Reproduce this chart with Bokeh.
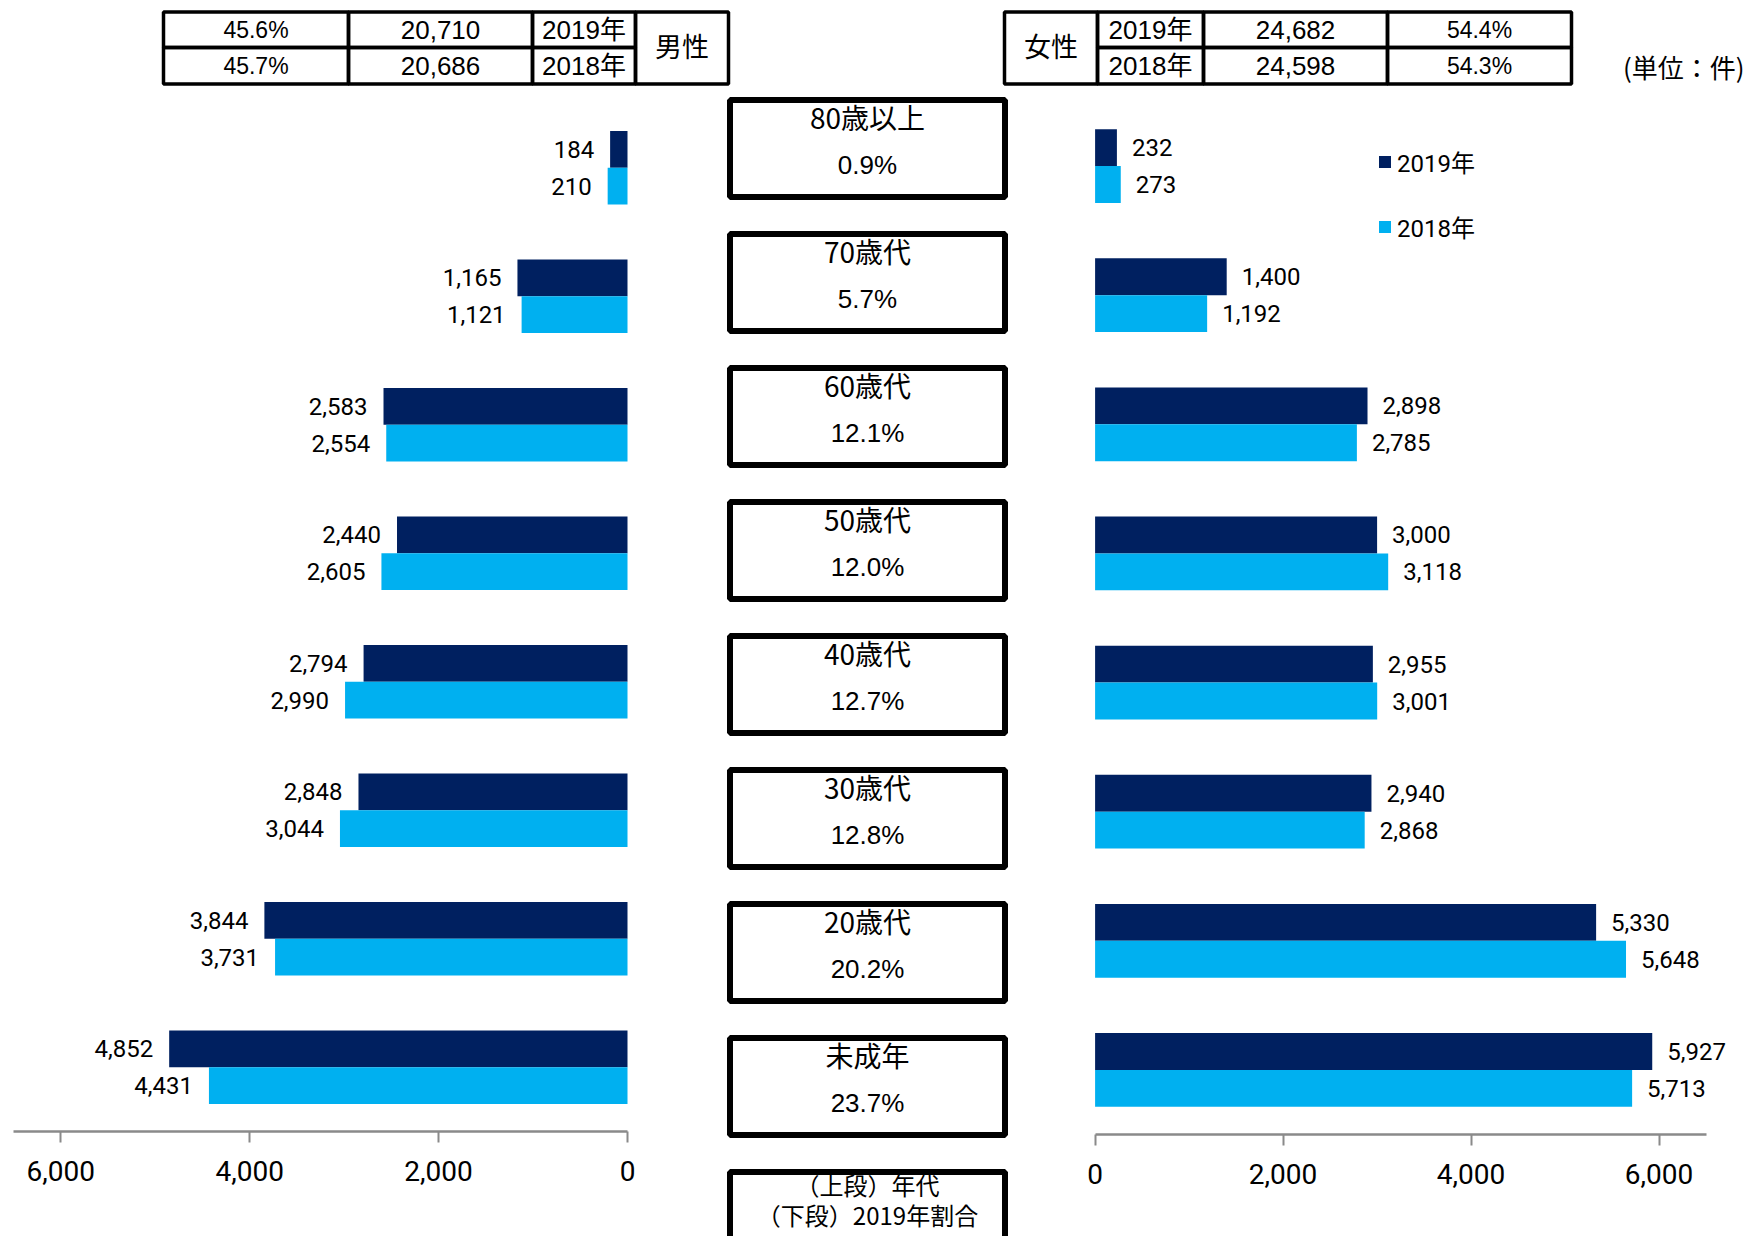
from bokeh.plotting import figure
from bokeh.layouts import column, row
from bokeh.models import (Range1d, FactorRange, ColumnDataSource, FixedTicker,
                          NumeralTickFormatter, Legend, LegendItem)
from bokeh.transform import dodge
from bokeh.core.properties import value
from bokeh.embed import file_html
from bokeh.resources import INLINE

# ---------------- data ----------------
categories = ["80歳以上", "70歳代", "60歳代", "50歳代", "40歳代", "30歳代", "20歳代", "未成年"]
male_2019 = [184, 1165, 2583, 2440, 2794, 2848, 3844, 4852]
male_2018 = [210, 1121, 2554, 2605, 2990, 3044, 3731, 4431]
female_2019 = [232, 1400, 2898, 3000, 2955, 2940, 5330, 5927]
female_2018 = [273, 1192, 2785, 3118, 3001, 2868, 5648, 5713]
share_2019 = [0.9, 5.7, 12.1, 12.0, 12.7, 12.8, 20.2, 23.7]
years = ["2019年", "2018年"]
male_total = [20710, 20686]
male_share = [45.6, 45.7]
female_total = [24682, 24598]
female_share = [54.4, 54.3]
axis_ticks = [0, 2000, 4000, 6000]
axis_max = 6500
key_box_lines = ["（上段）年代", "（下段）2019年割合"]
unit_label = "(単位：件)"

# ---------------- style / layout ----------------
DARK = "#002060"
LIGHT = "#00B0F0"
AXIS_GREY = "#8a8a8a"
NUM_FONT = "Roboto, Noto Sans CJK JP"
TXT_FONT = "Liberation Sans, Noto Sans CJK JP"
CJK_FONT = "Noto Sans CJK JP"

TOTAL_W = 1746
TOP_H = 93
BOT_H = 1143
TOP_Y0, TOP_Y1 = 0, 93            # pixel span of the header strip
BOT_Y0, BOT_Y1 = 93, 1236
L_X0, L_X1 = 0, 724
C_X0, C_X1 = 724, 1010
R_X0, R_X1 = 1010, 1746
L_ZERO, L_FULL = 627, 13          # where 0 and axis_max fall (left panel)
R_ZERO, R_FULL = 1094.6, 1705.6   # same for right panel
BAR_H = 0.2856
DODGE = BAR_H / 2

common = dict(output_backend="svg", toolbar_location=None, outline_line_color=None,
              background_fill_color="white", border_fill_color="white")

src = ColumnDataSource(dict(
    cat=categories,
    m19=male_2019, m18=male_2018, f19=female_2019, f18=female_2018,
    m19l=[f"{v:,}" for v in male_2019], m18l=[f"{v:,}" for v in male_2018],
    f19l=[f"{v:,}" for v in female_2019], f18l=[f"{v:,}" for v in female_2018],
))


def style_axis(p):
    ax = p.xaxis[0]
    ax.ticker = FixedTicker(ticks=axis_ticks)
    ax.formatter = NumeralTickFormatter(format="0,0")
    ax.bounds = (0, axis_max)
    ax.axis_line_color = AXIS_GREY
    ax.axis_line_width = 2.5
    ax.major_tick_line_color = AXIS_GREY
    ax.major_tick_line_width = 2
    ax.major_tick_out = 11
    ax.major_tick_in = 0
    ax.minor_tick_line_color = None
    ax.major_label_text_font = NUM_FONT
    ax.major_label_text_font_size = "28px"
    ax.major_label_text_color = "black"
    ax.major_label_standoff = 18
    p.grid.visible = False


# ---------------- left (male) ----------------
kL = (L_ZERO - L_FULL) / axis_max
yl = FactorRange(factors=categories[::-1])
pl = figure(width=L_X1 - L_X0, height=BOT_H,
            x_range=Range1d((L_ZERO - L_X0) / kL, (L_ZERO - L_X1) / kL),
            y_range=yl, y_axis_location=None,
            min_border_left=0, min_border_right=0, min_border_top=10, min_border_bottom=105,
            **common)
pl.hbar(y=dodge("cat", DODGE, range=yl), left=0, right="m19", height=BAR_H,
        source=src, fill_color=DARK, line_color=None)
pl.hbar(y=dodge("cat", -DODGE, range=yl), left=0, right="m18", height=BAR_H,
        source=src, fill_color=LIGHT, line_color=None)
for col, lab, off in (("m19", "m19l", DODGE), ("m18", "m18l", -DODGE)):
    pl.text(x=col, y=dodge("cat", off, range=yl), text=lab, source=src,
            text_align="right", text_baseline="middle", x_offset=-16,
            text_font=value(NUM_FONT), text_font_size="24px", text_color="black")
style_axis(pl)

# ---------------- right (female) ----------------
kR = (R_FULL - R_ZERO) / axis_max
yr = FactorRange(factors=categories[::-1])
pr = figure(width=R_X1 - R_X0, height=BOT_H,
            x_range=Range1d((R_X0 - R_ZERO) / kR, (R_X1 - R_ZERO) / kR),
            y_range=yr, y_axis_location=None,
            min_border_left=0, min_border_right=0, min_border_top=8, min_border_bottom=102,
            **common)
r19 = pr.hbar(y=dodge("cat", DODGE, range=yr), left=0, right="f19", height=BAR_H,
              source=src, fill_color=DARK, line_color=None)
r18 = pr.hbar(y=dodge("cat", -DODGE, range=yr), left=0, right="f18", height=BAR_H,
              source=src, fill_color=LIGHT, line_color=None)
for col, lab, off in (("f19", "f19l", DODGE), ("f18", "f18l", -DODGE)):
    pr.text(x=col, y=dodge("cat", off, range=yr), text=lab, source=src,
            text_align="left", text_baseline="middle", x_offset=15,
            text_font=value(NUM_FONT), text_font_size="24px", text_color="black")
style_axis(pr)

legend = Legend(items=[LegendItem(label=years[0], renderers=[r19]),
                       LegendItem(label=years[1], renderers=[r18])],
                location=(367, 890), orientation="vertical",
                glyph_width=15, glyph_height=15, label_standoff=5,
                label_text_font=NUM_FONT, label_text_font_size="24px",
                label_text_color="black", label_height=24,
                spacing=30, padding=0, margin=0,
                border_line_color=None, background_fill_alpha=0)
pr.add_layout(legend)

# ---------------- centre (category boxes) ----------------
BOX_Y0, BOX_PITCH = 148, 134
n_box = len(categories) + 1
pc = figure(width=C_X1 - C_X0, height=BOT_H, x_range=Range1d(0, 1),
            y_range=Range1d((BOT_Y1 - BOX_Y0) / BOX_PITCH, (BOT_Y0 - BOX_Y0) / BOX_PITCH),
            x_axis_location=None, y_axis_location=None, min_border=0, **common)
pc.grid.visible = False
idx = list(range(len(categories)))
pc.text(x=0.5, y=idx, text=categories, text_align="center", text_baseline="middle",
        y_offset=-32, text_font=value(CJK_FONT), text_font_size="28px", text_color="black")
pc.text(x=0.5, y=idx, text=[f"{v:.1f}%" for v in share_2019], text_align="center",
        text_baseline="middle", y_offset=16, text_font=value("Liberation Sans"),
        text_font_size="26px", text_color="black")
pc.text(x=0.5, y=[n_box - 1] * 2, text=key_box_lines, text_align="center",
        text_baseline="middle", y_offset=[-36, -6], text_font=value(CJK_FONT),
        text_font_size="24px", text_color="black")
pc.rect(x=0.5, y=list(range(n_box)), width=275, height=97, width_units="screen",
        height_units="screen", fill_color=None, line_color="black", line_width=6)

# ---------------- header tables ----------------
pt = figure(width=TOTAL_W, height=TOP_H, x_range=Range1d(0, TOTAL_W),
            y_range=Range1d(TOP_Y1, TOP_Y0), x_axis_location=None, y_axis_location=None,
            min_border=0, **common)
pt.grid.visible = False
ROWS = [11.5, 47, 83.5]
LCOL = [163, 348, 532, 635, 728]
RCOL = [1004, 1097, 1203, 1387, 1571]
cell_l, cell_r, cell_t, cell_b = [], [], [], []
for r in range(2):
    for c in range(3):
        cell_l.append(LCOL[c]); cell_r.append(LCOL[c + 1])
        cell_t.append(ROWS[r]); cell_b.append(ROWS[r + 1])
        cell_l.append(RCOL[c + 1]); cell_r.append(RCOL[c + 2])
        cell_t.append(ROWS[r]); cell_b.append(ROWS[r + 1])
cell_l += [LCOL[3], RCOL[0]]; cell_r += [LCOL[4], RCOL[1]]
cell_t += [ROWS[0], ROWS[0]]; cell_b += [ROWS[2], ROWS[2]]
pt.quad(left=cell_l, right=cell_r, top=cell_t, bottom=cell_b,
        fill_color=None, line_color="black", line_width=3.5)

row_mid = [(ROWS[0] + ROWS[1]) / 2, (ROWS[1] + ROWS[2]) / 2]


def cmid(cols, c):
    return (cols[c] + cols[c + 1]) / 2


tcfg = dict(text_align="center", text_baseline="middle", text_color="black",
            text_font=value(TXT_FONT))
pt.text(x=[cmid(LCOL, 0)] * 2, y=row_mid, text=[f"{v:.1f}%" for v in male_share],
        text_font_size="23px", **tcfg)
pt.text(x=[cmid(LCOL, 1)] * 2, y=row_mid, text=[f"{v:,}" for v in male_total],
        text_font_size="26px", **tcfg)
pt.text(x=[cmid(LCOL, 2)] * 2, y=row_mid, text=years, text_font_size="26px", **tcfg)
pt.text(x=[cmid(LCOL, 3)], y=[ROWS[1]], text=["男性"], text_font_size="27px", **tcfg)
pt.text(x=[cmid(RCOL, 0)], y=[ROWS[1]], text=["女性"], text_font_size="27px", **tcfg)
pt.text(x=[cmid(RCOL, 1)] * 2, y=row_mid, text=years, text_font_size="26px", **tcfg)
pt.text(x=[cmid(RCOL, 2)] * 2, y=row_mid, text=[f"{v:,}" for v in female_total],
        text_font_size="26px", **tcfg)
pt.text(x=[cmid(RCOL, 3)] * 2, y=row_mid, text=[f"{v:.1f}%" for v in female_share],
        text_font_size="23px", **tcfg)
pt.text(x=[1744], y=[66], text=[unit_label], text_align="right", text_baseline="middle",
        text_color="black", text_font=value(CJK_FONT), text_font_size="26px")

layout = column(pt, row(column(pl), column(pc), column(pr), spacing=0), spacing=0)
open("out.html", "w").write(file_html(layout, INLINE))
